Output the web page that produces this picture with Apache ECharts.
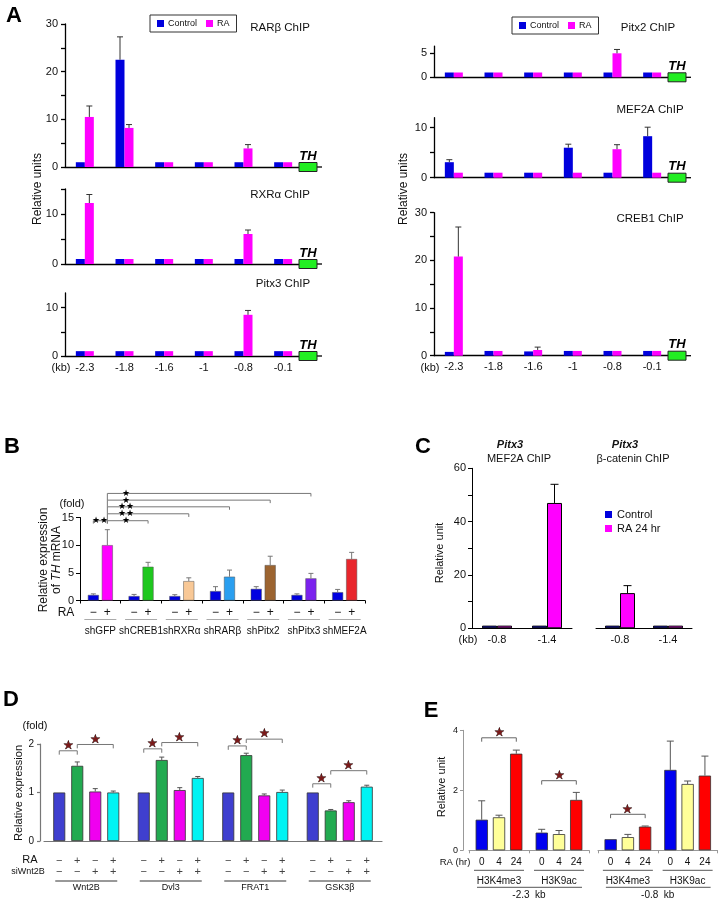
<!DOCTYPE html>
<html><head><meta charset="utf-8">
<script src="https://cdn.jsdelivr.net/npm/echarts@6/dist/echarts.min.js"></script>
<style>html,body{margin:0;padding:0;background:#fff}#c{width:720px;height:908px}</style>
</head><body><div id="c"></div><script>
const FONT = '"Liberation Sans", Arial, sans-serif';

// ---------------- Panel A data ----------------
const aSites = ['-2.3', '-1.8', '-1.6', '-1', '-0.8', '-0.1'];
const rarbCtrl = [1, 22.5, 1, 1, 1, 1];
const rarbCtrlSd = [0, 4.8, 0, 0, 0, 0];
const rarbRA = [10.5, 8.2, 1, 1, 3.9, 1];
const rarbRASd = [2.3, 0.7, 0, 0, 0.8, 0];
const rxraCtrl = [1, 1, 1, 1, 1, 1];
const rxraCtrlSd = [0, 0, 0, 0, 0, 0];
const rxraRA = [12.2, 1, 1, 1, 6.0, 1];
const rxraRASd = [1.7, 0, 0, 0, 0.8, 0];
const pitx3Ctrl = [1, 1, 1, 1, 1, 1];
const pitx3CtrlSd = [0, 0, 0, 0, 0, 0];
const pitx3RA = [1, 1, 1, 1, 8.5, 1];
const pitx3RASd = [0, 0, 0, 0, 0.9, 0];
const pitx2Ctrl = [1, 1, 1, 1, 1, 1];
const pitx2CtrlSd = [0, 0, 0, 0, 0, 0];
const pitx2RA = [1, 1, 1, 1, 5.0, 1];
const pitx2RASd = [0, 0, 0, 0, 0.8, 0];
const mef2aCtrl = [3.1, 1, 1, 6.0, 1, 8.3];
const mef2aCtrlSd = [0.5, 0, 0, 0.7, 0, 1.8];
const mef2aRA = [1, 1, 1, 1, 5.7, 1];
const mef2aRASd = [0, 0, 0, 0, 0.9, 0];
const creb1Ctrl = [0.8, 1, 0.9, 1, 1, 1];
const creb1CtrlSd = [0, 0, 0, 0, 0, 0];
const creb1RA = [20.8, 1, 1.2, 1, 1, 1];
const creb1RASd = [6.2, 0, 0.6, 0, 0, 0];

// ---------------- Panel B data ----------------
const bGroups = ['shGFP', 'shCREB1', 'shRXRα', 'shRARβ', 'shPitx2', 'shPitx3', 'shMEF2A'];
const bCtrl = [1.0, 0.8, 0.8, 1.7, 2.1, 1.0, 1.5];
const bCtrlSd = [0.2, 0.3, 0.25, 0.8, 0.4, 0.2, 0.5];
const bRA = [10.0, 6.1, 3.5, 4.3, 6.4, 4.0, 7.5];
const bRASd = [2.8, 0.8, 0.6, 1.2, 1.6, 0.9, 1.2];
const bSigns = ['−', '+'];
// bracket: [cat1, slot1, cat2, slot2, yLine, yLegLeft, yLegRight, label, labelDx or null(mid)]
const bBrackets = [
  [0, 0, 0, 1, 14.42, 13.9, 13.9, '★★', null],
  [0, 1, 1, 1, 14.42, 13.9, 13.9, '★', 19],
  [0, 1, 2, 1, 15.67, 14.42, 15.1, '★★', 19],
  [0, 1, 3, 1, 16.93, 15.67, 16.4, '★★', 19],
  [0, 1, 4, 1, 18.14, 16.93, 17.6, '★', 19],
  [0, 1, 5, 1, 19.35, 18.14, 18.8, '★', 19]
];

// ---------------- Panel C data ----------------
const cSites = ['-0.8', '-1.4'];
const cMefCtrl = [1, 1];
const cMefCtrlSd = [0, 0];
const cMefRA = [1, 47];
const cMefRASd = [0, 7];
const cCatCtrl = [1, 1];
const cCatCtrlSd = [0, 0];
const cCatRA = [13.2, 1];
const cCatRASd = [2.8, 0];

// ---------------- Panel D data ----------------
const dGenes = ['Wnt2B', 'Dvl3', 'FRAT1', 'GSK3β'];
const dCtrl = [1, 1, 1, 1];
const dCtrlSd = [0, 0, 0, 0];
const dRA = [1.55, 1.67, 1.77, 0.63];
const dRASd = [0.08, 0.06, 0.04, 0.02];
const dSi = [1.02, 1.05, 0.94, 0.80];
const dSiSd = [0.06, 0.05, 0.03, 0.03];
const dRASi = [1.00, 1.30, 1.01, 1.12];
const dRASiSd = [0.03, 0.03, 0.04, 0.03];
const dRASigns = ['−', '+', '−', '+'];
const dSiSigns = ['−', '−', '+', '+'];
const dBrackets = [
  [0, 0, 0, 1, 1.86, 1.78, 1.78, '★', null],
  [0, 1, 0, 3, 1.99, 1.91, 1.91, '★', null],
  [1, 0, 1, 1, 1.90, 1.82, 1.82, '★', null],
  [1, 1, 1, 3, 2.03, 1.95, 1.95, '★', null],
  [2, 0, 2, 1, 1.96, 1.88, 1.88, '★', null],
  [2, 1, 2, 3, 2.10, 2.02, 2.02, '★', null],
  [3, 0, 3, 1, 1.18, 1.10, 1.10, '★', null],
  [3, 1, 3, 3, 1.45, 1.37, 1.37, '★', null]
];

// ---------------- Panel E data ----------------
const eTimes = ['0', '4', '24'];
const eMarks = ['H3K4me3', 'H3K9ac'];
const e23h0 = [1.02, 0.59], e23h0Sd = [0.63, 0.11];
const e23h4 = [1.10, 0.54], e23h4Sd = [0.07, 0.12];
const e23h24 = [3.22, 1.68], e23h24Sd = [0.12, 0.25];
const e08h0 = [0.37, 2.68], e08h0Sd = [0, 0.96];
const e08h4 = [0.44, 2.21], e08h4Sd = [0.09, 0.10];
const e08h24 = [0.79, 2.49], e08h24Sd = [0.02, 0.65];
const e23Brackets = [
  [0, 0, 0, 2, 3.75, 3.62, 3.62, '★', null],
  [1, 0, 1, 2, 2.32, 2.19, 2.19, '★', null]
];
const e08Brackets = [
  [0, 0, 0, 2, 1.20, 1.07, 1.07, '★', null]
];

// ---------------- helpers ----------------
const grids = [], xAxes = [], yAxes = [], series = [];

function txt(x, y, text, o) {
  o = o || {};
  const st = {
    text: text, fill: o.color || '#111', fontSize: o.size || 12, fontFamily: FONT,
    fontWeight: o.bold ? 'bold' : 'normal', fontStyle: o.italic ? 'italic' : 'normal',
    align: o.align || 'center', verticalAlign: o.va || 'middle'
  };
  if (o.rich) st.rich = o.rich;
  if (o.lineHeight) st.lineHeight = o.lineHeight;
  if (o.stroke) { st.stroke = o.stroke; st.lineWidth = o.strokeWidth || 0.6; }
  return { type: 'text', x: x, y: y, rotation: o.rot || 0, silent: true, z: 20, style: st };
}
function ln(x1, y1, x2, y2, color, w) {
  return { type: 'line', silent: true, shape: { x1: x1, y1: y1, x2: x2, y2: y2 }, style: { stroke: color, lineWidth: w || 1 } };
}

function addGrid(o) {
  const gi = grids.length;
  const ac = o.axisColor || '#000', aw = o.axisWidth || 1;
  grids.push({ left: o.l, top: o.t, width: o.w, height: o.h });
  xAxes.push({
    type: 'category', gridIndex: gi, data: o.cats, boundaryGap: true,
    axisLine: { show: true, onZero: false, lineStyle: { color: ac, width: aw } },
    axisTick: { show: !!o.xTick, length: o.xTick || 3, lineStyle: { color: ac } },
    axisLabel: { show: !!o.xLabels, interval: 0, fontFamily: FONT, fontSize: o.xFont || 11, color: '#111', margin: o.xMargin || 6 },
    splitLine: { show: false }
  });
  const showY = o.yLine !== false;
  yAxes.push({
    type: 'value', gridIndex: gi, min: 0, max: o.max, offset: o.yOff || 0,
    axisLine: { show: showY, lineStyle: { color: ac, width: aw } },
    axisTick: { show: showY, length: o.tickLen || 4, customValues: o.ticks, lineStyle: { color: ac, width: aw } },
    axisLabel: { show: showY, customValues: o.labels, fontFamily: FONT, fontSize: o.yFont || 11, color: '#111', margin: o.yMargin || 7 },
    splitLine: { show: false }
  });
  return gi;
}

function addBar(gi, name, data, color, bw, gap, border) {
  series.push({
    type: 'bar', name: name, xAxisIndex: gi, yAxisIndex: gi, data: data, barWidth: bw, barGap: gap,
    silent: true, z: 2,
    itemStyle: { color: color, borderColor: border ? border[0] : 'transparent', borderWidth: border ? border[1] : 0 }
  });
}

function addErr(gi, vals, sds, slot, n, step, color, capW, lw) {
  series.push({
    type: 'custom', xAxisIndex: gi, yAxisIndex: gi, silent: true, clip: false, z: 3,
    data: vals.map(function (v, i) { return [i, v, v + (sds[i] || 0)]; }),
    encode: { x: 0, y: 1 },
    renderItem: function (params, api) {
      const i = params.dataIndex;
      if (!sds[i]) return { type: 'group', children: [] };
      const p = api.coord([i, vals[i]]);
      const q = api.coord([i, vals[i] + sds[i]]);
      const x = p[0] + (slot - (n - 1) / 2) * step;
      return { type: 'group', children: [
        ln(x, p[1], x, q[1], color, lw || 1),
        ln(x - capW / 2, q[1], x + capW / 2, q[1], color, lw || 1)
      ] };
    }
  });
}

function addBrackets(gi, defs, n, step, lineColor, starColor, starSize, starDy, starStroke) {
  series.push({
    type: 'custom', xAxisIndex: gi, yAxisIndex: gi, silent: true, clip: false, z: 6,
    data: defs.map(function (d) { return [d[0], d[4]]; }),
    encode: { x: 0, y: 1 },
    renderItem: function (params, api) {
      const d = defs[params.dataIndex];
      const off = function (s) { return (s - (n - 1) / 2) * step; };
      const a = api.coord([d[0], d[4]]), b = api.coord([d[2], d[4]]);
      const x1 = a[0] + off(d[1]), x2 = b[0] + off(d[3]), y = a[1];
      const yl = api.coord([d[0], d[5]])[1], yr = api.coord([d[0], d[6]])[1];
      const lx = d[8] == null ? (x1 + x2) / 2 : x1 + d[8];
      const o = { size: starSize, color: starColor };
      if (starStroke) { o.stroke = starStroke; o.strokeWidth = 0.5; }
      return { type: 'group', children: [
        ln(x1, y, x2, y, lineColor, 1),
        ln(x1, y, x1, yl, lineColor, 1),
        ln(x2, y, x2, yr, lineColor, 1),
        txt(lx, y - starDy, d[7], o)
      ] };
    }
  });
}

function addDecor(gi, draw) {
  series.push({
    type: 'custom', xAxisIndex: gi, yAxisIndex: gi, silent: true, clip: false, z: 8,
    data: [[0, 0]], encode: { x: 0, y: 1 },
    renderItem: function (params, api) { return { type: 'group', children: draw(api) }; }
  });
}

// ---------------- Panel A ----------------
function panelA(l, t, h, max, ticks, labels, ctrl, ctrlSd, ra, raSd, showX) {
  const gi = addGrid({ l: l, t: t, w: 238, h: h, cats: aSites, max: max, ticks: ticks, labels: labels,
    axisColor: '#000', axisWidth: 1.3, yFont: 11, xLabels: showX, xFont: 11, xMargin: 6, yMargin: 7 });
  addBar(gi, 'Control', ctrl, '#0000dd', 9, '0%');
  addBar(gi, 'RA', ra, '#ff00ff', 9, '0%');
  addErr(gi, ctrl, ctrlSd, 0, 2, 9, '#333', 6, 1);
  addErr(gi, ra, raSd, 1, 2, 9, '#333', 6, 1);
  addDecor(gi, function (api) {
    const z = api.coord([aSites.length - 1, 0]);
    const c0 = api.coord([0, 0]);
    const bw = api.size([1, 0])[0];
    const xe = z[0] + bw / 2, y = z[1];
    const els = [
      ln(xe, y, xe + 19, y, '#000', 1.3),
      { type: 'rect', silent: true, shape: { x: xe - 4, y: y - 4.5, width: 18, height: 9 }, style: { fill: '#22ee22', stroke: '#222', lineWidth: 1 } },
      txt(xe + 5, y - 11, 'TH', { bold: true, italic: true, size: 13, color: '#000' })
    ];
    if (showX) els.push(txt(c0[0] - bw / 2 - 4, y + 12, '(kb)', { size: 11 }));
    return els;
  });
  return gi;
}
panelA(65, 24, 143, 30, [0, 5, 10, 15, 20, 25, 30], [0, 10, 20, 30], rarbCtrl, rarbCtrlSd, rarbRA, rarbRASd, false);
panelA(65, 189, 75, 15, [0, 5, 10, 15], [0, 10], rxraCtrl, rxraCtrlSd, rxraRA, rxraRASd, false);
panelA(65, 293, 63, 13, [0, 5, 10], [0, 10], pitx3Ctrl, pitx3CtrlSd, pitx3RA, pitx3RASd, true);
panelA(434, 46.1, 31.2, 6.5, [0, 5], [0, 5], pitx2Ctrl, pitx2CtrlSd, pitx2RA, pitx2RASd, false);
panelA(434, 117.7, 60, 12, [0, 5, 10], [0, 10], mef2aCtrl, mef2aCtrlSd, mef2aRA, mef2aRASd, false);
panelA(434, 212.7, 143, 30, [0, 5, 10, 15, 20, 25, 30], [0, 10, 20, 30], creb1Ctrl, creb1CtrlSd, creb1RA, creb1RASd, true);

// ---------------- Panel B ----------------
const bRAColors = ['#ff00ff', '#1ec81e', '#f8c896', '#2a9ff0', '#9c6430', '#7b22ee', '#e8262c'];
const gB = addGrid({ l: 80, t: 517.5, w: 285, h: 83, cats: bGroups, max: 15, ticks: [0, 5, 10, 15], labels: [0, 5, 10, 15],
  axisColor: '#000', axisWidth: 1, xTick: 3, yFont: 11, yMargin: 6 });
addBar(gB, 'B-minus', bCtrl, '#0000e0', 11, '27%', ['#555', 0.5]);
addBar(gB, 'B-plus', bRA.map(function (v, i) { return { value: v, itemStyle: { color: bRAColors[i] } }; }), '#ff00ff', 11, '27%', ['#555', 0.5]);
addErr(gB, bCtrl, bCtrlSd, 0, 2, 14, '#777', 5, 1);
addErr(gB, bRA, bRASd, 1, 2, 14, '#777', 5, 1);
addBrackets(gB, bBrackets, 2, 14, '#777', '#000', 9, 0, null);
addDecor(gB, function (api) {
  const els = [];
  const bw = api.size([1, 0])[0];
  bGroups.forEach(function (g, i) {
    const p = api.coord([i, 0]);
    bSigns.forEach(function (s, k) { els.push(txt(p[0] + (k - 0.5) * 14, p[1] + 12, s, { size: 12 })); });
    els.push(ln(p[0] - 16, p[1] + 19, p[0] + 16, p[1] + 19, '#aaa', 1));
    els.push(txt(p[0], p[1] + 31, g, { size: 10 }));
  });
  const c0 = api.coord([0, 0]);
  els.push(txt(c0[0] - bw / 2 - 14, c0[1] + 12, 'RA', { size: 12 }));
  return els;
});

// ---------------- Panel C ----------------
const gC1 = addGrid({ l: 472, t: 468.3, w: 100, h: 160, cats: cSites, max: 60, ticks: [0, 10, 20, 30, 40, 50, 60], labels: [0, 20, 40, 60],
  axisColor: '#000', axisWidth: 1, xLabels: true, xFont: 11, yFont: 11, yMargin: 6 });
addBar(gC1, 'Control', cMefCtrl, '#0000ee', 15, '0%', ['#000', 1]);
addBar(gC1, 'RA 24 hr', cMefRA, '#ff00ff', 15, '0%', ['#000', 1]);
addErr(gC1, cMefCtrl, cMefCtrlSd, 0, 2, 15, '#000', 8, 1);
addErr(gC1, cMefRA, cMefRASd, 1, 2, 15, '#000', 8, 1);
addDecor(gC1, function (api) {
  const c0 = api.coord([0, 0]); const bw = api.size([1, 0])[0];
  return [txt(c0[0] - bw / 2 - 4, c0[1] + 12, '(kb)', { size: 11 })];
});
const gC2 = addGrid({ l: 596, t: 468.3, w: 96, h: 160, cats: cSites, max: 60, yLine: false,
  axisColor: '#000', axisWidth: 1, xLabels: true, xFont: 11 });
addBar(gC2, 'Control', cCatCtrl, '#0000ee', 15, '0%', ['#000', 1]);
addBar(gC2, 'RA 24 hr', cCatRA, '#ff00ff', 15, '0%', ['#000', 1]);
addErr(gC2, cCatCtrl, cCatCtrlSd, 0, 2, 15, '#000', 8, 1);
addErr(gC2, cCatRA, cCatRASd, 1, 2, 15, '#000', 8, 1);

// ---------------- Panel D ----------------
const gD = addGrid({ l: 44, t: 744, w: 338, h: 97, cats: dGenes, max: 2, ticks: [0, 1, 2], labels: [0, 1, 2], yOff: 4,
  axisColor: '#777', axisWidth: 1.2, yFont: 10, yMargin: 6, tickLen: 3 });
const dBorder = ['#333', 0.8];
addBar(gD, 'D1', dCtrl, '#3f3fcf', 12, '50%', dBorder);
addBar(gD, 'D2', dRA, '#22aa50', 12, '50%', dBorder);
addBar(gD, 'D3', dSi, '#f000f0', 12, '50%', dBorder);
addBar(gD, 'D4', dRASi, '#00f3f3', 12, '50%', dBorder);
addErr(gD, dCtrl, dCtrlSd, 0, 4, 18, '#555', 5, 1);
addErr(gD, dRA, dRASd, 1, 4, 18, '#555', 5, 1);
addErr(gD, dSi, dSiSd, 2, 4, 18, '#555', 5, 1);
addErr(gD, dRASi, dRASiSd, 3, 4, 18, '#555', 5, 1);
addBrackets(gD, dBrackets, 4, 18, '#777', '#7a1a1a', 12, 5, '#000');
addDecor(gD, function (api) {
  const els = [];
  const bw = api.size([1, 0])[0];
  dGenes.forEach(function (g, i) {
    const p = api.coord([i, 0]);
    for (let s = 0; s < 4; s++) {
      const x = p[0] + (s - 1.5) * 18;
      els.push(txt(x, p[1] + 20, dRASigns[s], { size: 11, color: '#444' }));
      els.push(txt(x, p[1] + 31, dSiSigns[s], { size: 11, color: '#444' }));
    }
    els.push(ln(p[0] - 31, p[1] + 40, p[0] + 31, p[1] + 40, '#333', 1));
    els.push(txt(p[0], p[1] + 47, g, { size: 9 }));
  });
  const c0 = api.coord([0, 0]);
  els.push(txt(c0[0] - bw / 2 - 14, c0[1] + 19, 'RA', { size: 11 }));
  els.push(txt(c0[0] - bw / 2 - 16, c0[1] + 31, 'siWnt2B', { size: 9 }));
  return els;
});

// ---------------- Panel E ----------------
const eBorder = ['#333', 0.8];
function panelE(l, w, h0, h0Sd, h4, h4Sd, h24, h24Sd, brackets, kbLabel, withY) {
  const gi = addGrid({ l: l, t: 730.3, w: w, h: 120, cats: eMarks, max: 4, ticks: [0, 2, 4], labels: [0, 2, 4], yOff: withY ? 6 : 0,
    yLine: withY, axisColor: '#999', axisWidth: 1, xTick: 3, yFont: 9, yMargin: 5, tickLen: 3 });
  addBar(gi, 'E0-' + l, h0, '#0000f0', 12.3, '40%', eBorder);
  addBar(gi, 'E4-' + l, h4, '#ffff99', 12.3, '40%', eBorder);
  addBar(gi, 'E24-' + l, h24, '#ff0000', 12.3, '40%', eBorder);
  addErr(gi, h0, h0Sd, 0, 3, 17.3, '#555', 7, 1);
  addErr(gi, h4, h4Sd, 1, 3, 17.3, '#555', 7, 1);
  addErr(gi, h24, h24Sd, 2, 3, 17.3, '#555', 7, 1);
  addBrackets(gi, brackets, 3, 17.3, '#666', '#7a1a1a', 12, 5, '#000');
  addDecor(gi, function (api) {
    const els = [];
    const bw = api.size([1, 0])[0];
    eMarks.forEach(function (m, i) {
      const p = api.coord([i, 0]);
      eTimes.forEach(function (t, s) { els.push(txt(p[0] + (s - 1) * 17.3, p[1] + 12, t, { size: 10 })); });
      els.push(ln(p[0] - 25, p[1] + 20, p[0] + 25, p[1] + 20, '#555', 1));
      els.push(txt(p[0], p[1] + 31, m, { size: 10 }));
    });
    const c0 = api.coord([0, 0]), c1 = api.coord([1, 0]);
    els.push(ln(c0[0] - 22, c0[1] + 37, c1[0] + 23, c0[1] + 37, '#555', 1));
    els.push(txt((c0[0] + c1[0]) / 2, c0[1] + 45, kbLabel, { size: 10 }));
    if (withY) els.push(txt(c0[0] - bw / 2 - 14, c0[1] + 12, 'RA (hr)', { size: 9.5 }));
    return els;
  });
}
panelE(469, 120, e23h0, e23h0Sd, e23h4, e23h4Sd, e23h24, e23h24Sd, e23Brackets, '-2.3  kb', true);
panelE(598, 119.5, e08h0, e08h0Sd, e08h4, e08h4Sd, e08h24, e08h24Sd, e08Brackets, '-0.8  kb', false);

// ---------------- static text ----------------
const R90 = Math.PI / 2;
const graphic = [
  txt(14, 16, 'A', { size: 22, bold: true, color: '#000' }),
  txt(12, 447, 'B', { size: 22, bold: true, color: '#000' }),
  txt(423, 447, 'C', { size: 22, bold: true, color: '#000' }),
  txt(11, 700, 'D', { size: 22, bold: true, color: '#000' }),
  txt(431, 711, 'E', { size: 22, bold: true, color: '#000' }),
  txt(280, 28, 'RARβ ChIP', { size: 11.5 }),
  txt(280, 195, 'RXRα ChIP', { size: 11.5 }),
  txt(283, 284, 'Pitx3 ChIP', { size: 11.5 }),
  txt(648, 28, 'Pitx2 ChIP', { size: 11.5 }),
  txt(650, 110, 'MEF2A ChIP', { size: 11.5 }),
  txt(650, 219, 'CREB1 ChIP', { size: 11.5 }),
  txt(38, 189, 'Relative units', { size: 12, rot: R90 }),
  txt(404, 189, 'Relative units', { size: 12, rot: R90 }),
  txt(72, 504, '(fold)', { size: 11 }),
  txt(50, 560, '{n|Relative expression}\n{n|of }{i|TH}{n| mRNA}', { size: 12, rot: R90, lineHeight: 13,
    rich: { n: { fontSize: 12, fontFamily: FONT, fill: '#111', lineHeight: 13 }, i: { fontSize: 12, fontFamily: FONT, fontStyle: 'italic', fill: '#111', lineHeight: 13 } } }),
  txt(510, 445, 'Pitx3', { size: 11, bold: true, italic: true }),
  txt(519, 459, 'MEF2A ChIP', { size: 11 }),
  txt(625, 445, 'Pitx3', { size: 11, bold: true, italic: true }),
  txt(633, 459, 'β-catenin ChIP', { size: 11 }),
  txt(440, 553, 'Relative unit', { size: 11, rot: R90 }),
  txt(35, 726, '(fold)', { size: 11 }),
  txt(19, 793, 'Relative expression', { size: 11, rot: R90 }),
  txt(442, 787, 'Relative unit', { size: 11, rot: R90 })
];

const legendBase = {
  icon: 'rect', itemWidth: 7, itemHeight: 7, selectedMode: false,
  itemStyle: { borderWidth: 0 },
  textStyle: { fontFamily: FONT, fontSize: 9, color: '#111', padding: [0, 0, 0, -1] }
};
const option = {
  animation: false,
  textStyle: { fontFamily: FONT },
  grid: grids, xAxis: xAxes, yAxis: yAxes, series: series, graphic: graphic,
  legend: [
    Object.assign({}, legendBase, { left: 150, top: 15, data: ['Control', 'RA'], borderColor: '#333', borderWidth: 1, padding: [4, 7, 4, 7], itemGap: 9 }),
    Object.assign({}, legendBase, { left: 512, top: 17, data: ['Control', 'RA'], borderColor: '#333', borderWidth: 1, padding: [4, 7, 4, 7], itemGap: 9 }),
    Object.assign({}, legendBase, { left: 605, top: 509, orient: 'vertical', data: ['Control', 'RA 24 hr'], itemGap: 3, padding: 0,
      textStyle: { fontFamily: FONT, fontSize: 11, color: '#111' } })
  ]
};
const chart = echarts.init(document.getElementById('c'), null, { renderer: 'canvas', width: 720, height: 908 });
chart.setOption(option);
</script></body></html>
